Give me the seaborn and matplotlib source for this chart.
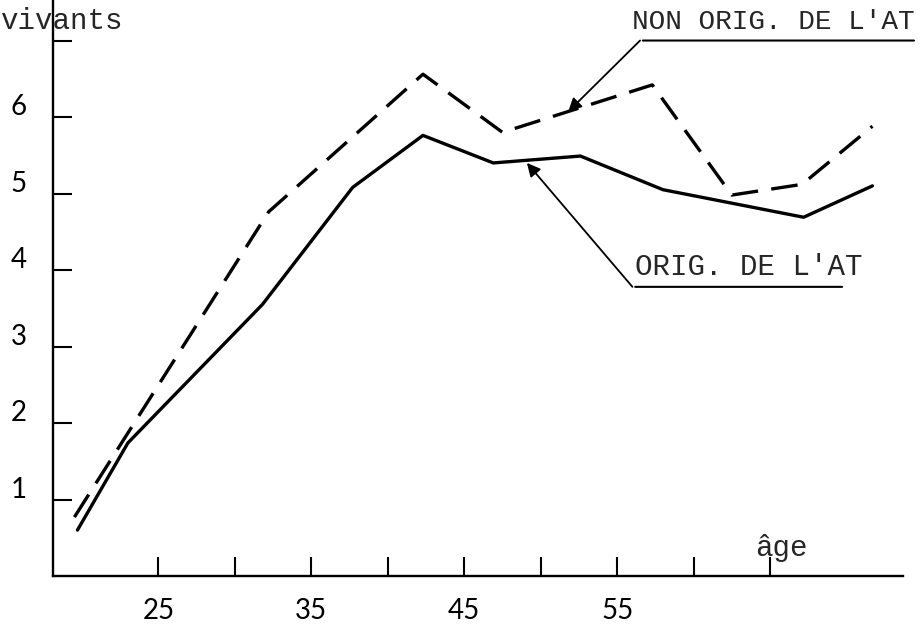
import numpy as np
import pandas as pd
import matplotlib
matplotlib.use('Agg')
import matplotlib.pyplot as plt
import matplotlib.transforms as mtransforms
import seaborn as sns

# ---- data ----
ages_orig = [19.7, 23.0, 31.8, 37.7, 42.3, 46.9, 52.6, 58.0, 67.2, 71.7]
vals_orig = [0.60, 1.74, 3.55, 5.08, 5.76, 5.40, 5.49, 5.05, 4.69, 5.10]
ages_non = [19.5, 32.2, 42.3, 47.5, 57.3, 62.5, 67.1, 71.7]
vals_non = [0.77, 4.76, 6.56, 5.80, 6.42, 4.98, 5.12, 5.88]

series_names = ["ORIG. DE L'AT", "NON ORIG. DE L'AT"]

x_ticks = [25, 30, 35, 40, 45, 50, 55, 60, 65]
x_labels = ['25', '', '35', '', '45', '', '55', '', '']
y_ticks = [1, 2, 3, 4, 5, 6, 7]
y_labels = ['1', '2', '3', '4', '5', '6', '']

y_title = 'vivants'
x_title = 'âge'

df = pd.concat([
    pd.DataFrame({'age': ages_orig, 'val': vals_orig, 'serie': series_names[0]}),
    pd.DataFrame({'age': ages_non, 'val': vals_non, 'serie': series_names[1]}),
], ignore_index=True)

sns.set_style('ticks')
plt.rcParams['font.family'] = ['Lato', 'DejaVu Sans']

fig = plt.figure(figsize=(9.22, 6.26), dpi=100)
ax = fig.add_axes([53 / 922, 50 / 626, 850 / 922, 576 / 626])

sns.lineplot(data=df, x='age', y='val', style='serie',
             dashes={series_names[0]: '', series_names[1]: (8, 4)},
             color='black', linewidth=2.4, sort=False, estimator=None,
             legend=False, ax=ax)

ax.set_xlim(18.1, 73.7)
ax.set_ylim(0, 7.53)
ax.set_xlabel('')
ax.set_ylabel('')

for s in ['top', 'right']:
    ax.spines[s].set_visible(False)
for s in ['left', 'bottom']:
    ax.spines[s].set_linewidth(1.7)
    ax.spines[s].set_color('black')

ax.set_xticks(x_ticks)
ax.set_xticklabels(x_labels, fontsize=20)
ax.set_yticks(y_ticks)
ax.set_yticklabels(y_labels, fontsize=20)
ax.tick_params(axis='both', which='major', direction='in', length=14,
               width=1.5, colors='black', bottom=True, left=True,
               top=False, right=False)
ax.tick_params(axis='x', pad=16)
ax.tick_params(axis='y', pad=19)

offset = mtransforms.ScaledTranslation(0, 9 / 72, fig.dpi_scale_trans)
for lbl in ax.get_yticklabels():
    lbl.set_transform(lbl.get_transform() + offset)

mono = ['Liberation Mono', 'DejaVu Sans Mono']

# axis titles
fig.text(0.0, 1 - 21 / 626, y_title, family=mono, fontsize=21,
         ha='left', va='center')
ax.text(64.0, 0.37, x_title, family=mono, fontsize=21, ha='left', va='center')

# annotations
ax.text(56.0, 7.24, series_names[1], family=mono, fontsize=20,
        ha='left', va='center', clip_on=False)
ax.annotate('', xy=(74.6, 7.0), xytext=(56.5, 7.0),
            arrowprops=dict(arrowstyle='-', lw=1.5, color='black'),
            annotation_clip=False)
ax.annotate('', xy=(51.8, 6.07), xytext=(56.5, 7.0),
            arrowprops=dict(arrowstyle='-|>', lw=1.3, color='black',
                            mutation_scale=20, shrinkA=0, shrinkB=0),
            annotation_clip=False)

ax.text(56.2, 4.04, series_names[0], family=mono, fontsize=21,
        ha='left', va='center')
ax.annotate('', xy=(69.9, 3.78), xytext=(56.0, 3.78),
            arrowprops=dict(arrowstyle='-', lw=1.5, color='black'))
ax.annotate('', xy=(49.1, 5.40), xytext=(56.0, 3.78),
            arrowprops=dict(arrowstyle='-|>', lw=1.3, color='black',
                            mutation_scale=20, shrinkA=0, shrinkB=0))

fig.savefig('out.png', dpi=100)
